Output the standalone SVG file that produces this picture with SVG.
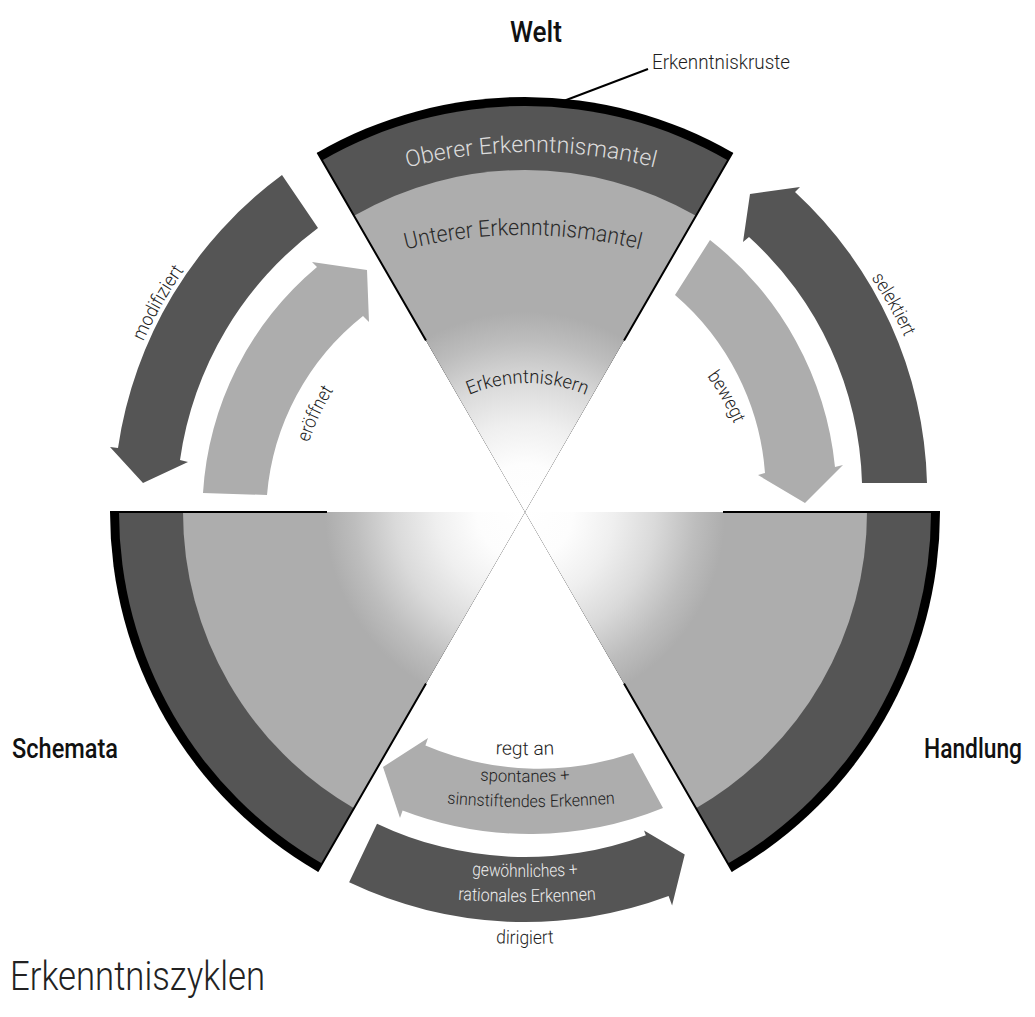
<svg xmlns="http://www.w3.org/2000/svg" width="1035" height="1017" viewBox="0 0 1035 1017">
<style>
  text{font-family:Roboto,"Liberation Sans",sans-serif}
  .crust{fill:#000}
  .mantle{fill:#555}
  .core{fill:url(#coreGrad)}
  .edge{stroke:#000;stroke-width:2;fill:none}
  .dark{fill:#555}
  .light{fill:#adadad}
  .title{font-weight:500;fill:#111}
  .lbl{font-weight:300;fill:#1e1e1e;font-size:19px}
  .lblb{font-weight:300;fill:#1e1e1e;font-size:17px}
  .lblw{font-weight:300;fill:#eeeeee;font-size:18px}
  .layer{font-weight:300;font-size:23px}
</style>
<defs>
  <radialGradient id="coreGrad" gradientUnits="userSpaceOnUse" cx="525" cy="512" r="342">
    <stop offset="0" stop-color="#ffffff"/>
    <stop offset="0.14" stop-color="#fdfdfd"/>
    <stop offset="0.26" stop-color="#efefef"/>
    <stop offset="0.38" stop-color="#dadada"/>
    <stop offset="0.5" stop-color="#bdbdbd"/>
    <stop offset="0.585" stop-color="#adadad"/>
    <stop offset="1" stop-color="#adadad"/>
  </radialGradient>
  <path id="tp-oberer" d="M360,181.9 A504,504 0 0 1 702,181.9"/>
  <path id="tp-unterer" d="M380,256.8 A480,480 0 0 1 666,256.8"/>
  <path id="tp-kern" d="M440,411.2 A150,150 0 0 1 615,411.2"/>
  <path id="tp-modifiziert" d="M120.68,405.93 A418,418 0 0 1 227.89,217.98"/>
  <path id="tp-selektiert" d="M823.65,219.54 A418,418 0 0 1 929.87,408.05"/>
  <path id="tp-eroeffnet" d="M301.55,472 A227,227 0 0 1 351.45,365.69"/>
  <path id="tp-bewegt" d="M686.07,352.05 A227,227 0 0 1 744.47,454.01"/>
  <path id="tp-regt" d="M405,744.6 A700,700 0 0 0 645,744.6"/>
  <path id="tp-spontan" d="M375,765.7 A700,700 0 0 0 675,765.7"/>
  <path id="tp-sinn" d="M381,795.7 A1000,1000 0 0 0 681,795.7"/>
  <path id="tp-gew" d="M375,860.7 A700,700 0 0 0 675,860.7"/>
  <path id="tp-rat" d="M377,890.7 A1000,1000 0 0 0 677,890.7"/>
  <path id="tp-dirig" d="M405,933.6 A700,700 0 0 0 645,933.6"/>
</defs>
<rect width="1035" height="1017" fill="#fff"/>

<g id="welt">
  <path class="crust" d="M525,512 L317.5,152.61 A415,415 0 0 1 732.5,152.61 Z"/>
  <path class="mantle" d="M525,512 L322,160.4 A406,406 0 0 1 728,160.4 Z"/>
  <path class="core" d="M525,512 L354,215.8 A342,342 0 0 1 696,215.8 Z"/>
  <path class="edge" d="M426,340.5 L317.5,152.61 M624,340.5 L732.5,152.61"/>
  <text class="layer" fill="#dcdcdc"><textPath href="#tp-oberer" startOffset="50%" text-anchor="middle" textLength="250" lengthAdjust="spacingAndGlyphs">Oberer Erkenntnismantel</textPath></text>
  <text class="layer" fill="#2a2a2a"><textPath href="#tp-unterer" startOffset="50%" text-anchor="middle" textLength="236" lengthAdjust="spacingAndGlyphs">Unterer Erkenntnismantel</textPath></text>
  <text font-weight="300" font-size="19" fill="#222"><textPath href="#tp-kern" startOffset="50%" text-anchor="middle" textLength="120" lengthAdjust="spacingAndGlyphs">Erkenntniskern</textPath></text>
  <text class="title" x="536" y="42" font-size="30" text-anchor="middle" textLength="52" lengthAdjust="spacingAndGlyphs">Welt</text>
  <path d="M648,69 L561,102" stroke="#000" stroke-width="2" fill="none"/>
  <text x="652" y="69" font-size="20" font-weight="300" fill="#1e1e1e" textLength="138" lengthAdjust="spacingAndGlyphs">Erkenntniskruste</text>
</g>

<g id="schemata">
  <path class="crust" d="M525,512 L317.5,871.39 A415,415 0 0 1 110,512 Z"/>
  <path class="mantle" d="M525,512 L322,863.6 A406,406 0 0 1 119,512 Z"/>
  <path class="core" d="M525,512 L354,808.2 A342,342 0 0 1 183,512 Z"/>
  <path class="edge" d="M426,683.5 L317.5,871.39 M327,512 L110,512"/>
  <text class="title" x="12" y="758" font-size="28" textLength="106" lengthAdjust="spacingAndGlyphs">Schemata</text>
</g>

<g id="handlung">
  <path class="crust" d="M525,512 L940,512 A415,415 0 0 1 732.5,871.39 Z"/>
  <path class="mantle" d="M525,512 L931,512 A406,406 0 0 1 728,863.6 Z"/>
  <path class="core" d="M525,512 L867,512 A342,342 0 0 1 696,808.2 Z"/>
  <path class="edge" d="M723,512 L940,512 M624,683.5 L732.5,871.39"/>
  <text class="title" x="1022" y="758" font-size="27" text-anchor="end" textLength="98" lengthAdjust="spacingAndGlyphs">Handlung</text>
</g>

<g id="connectors">
  <g id="arrow-modifiziert">
    <path class="dark" d="M282,175 A414,414 0 0 0 118,448 L110,447 L143,483 L188,462 L180,460 A350,350 0 0 1 318,228 Z"/>
    <text class="lbl"><textPath href="#tp-modifiziert" startOffset="50%" text-anchor="middle" textLength="82" lengthAdjust="spacingAndGlyphs">modifiziert</textPath></text>
  </g>
  <g id="arrow-eroeffnet">
    <path class="light" d="M203,493 A320,320 0 0 1 317,267 L312,262 L367,270 L369,322 L363,316 A256,256 0 0 0 267,495 Z"/>
    <text class="lbl"><textPath href="#tp-eroeffnet" startOffset="50%" text-anchor="middle" textLength="58" lengthAdjust="spacingAndGlyphs">eröffnet</textPath></text>
  </g>
  <g id="arrow-selektiert">
    <path class="dark" d="M862,483 A345,345 0 0 0 749,237 L743,242 L750,194 L800,187 L795,192 A410,410 0 0 1 927,483 Z"/>
    <text class="lbl"><textPath href="#tp-selektiert" startOffset="50%" text-anchor="middle" textLength="68" lengthAdjust="spacingAndGlyphs">selektiert</textPath></text>
  </g>
  <g id="arrow-bewegt">
    <path class="light" d="M710,240 A330,330 0 0 1 835,467 L843,465 L805,503 L758,475 L765,473 A260,260 0 0 0 675,295 Z"/>
    <text class="lbl"><textPath href="#tp-bewegt" startOffset="50%" text-anchor="middle" textLength="55" lengthAdjust="spacingAndGlyphs">bewegt</textPath></text>
  </g>
  <g id="arrow-regt-an">
    <path class="light" d="M633,753 A290,290 0 0 1 425.4,745.6 L428,738 L383,767 L400,818 L402.6,810.4 A355,355 0 0 0 663,808 Z"/>
    <text class="lbl"><textPath href="#tp-regt" startOffset="50%" text-anchor="middle" textLength="59" lengthAdjust="spacingAndGlyphs">regt an</textPath></text>
    <text class="lblb"><textPath href="#tp-spontan" startOffset="50%" text-anchor="middle" textLength="90" lengthAdjust="spacingAndGlyphs">spontanes +</textPath></text>
    <text class="lblb"><textPath href="#tp-sinn" startOffset="50%" text-anchor="middle" textLength="168" lengthAdjust="spacingAndGlyphs">sinnstiftendes Erkennen</textPath></text>
  </g>
  <g id="arrow-dirigiert">
    <path class="dark" d="M377.02,823.65 A345,345 0 0 0 645.82,835.15 L644.07,830.47 L684.75,854.58 L672.09,905.4 L668.59,896.03 A410,410 0 0 1 349.13,882.37 Z"/>
    <text class="lblw"><textPath href="#tp-gew" startOffset="50%" text-anchor="middle" textLength="106" lengthAdjust="spacingAndGlyphs">gewöhnliches +</textPath></text>
    <text class="lblw"><textPath href="#tp-rat" startOffset="50%" text-anchor="middle" textLength="138" lengthAdjust="spacingAndGlyphs">rationales Erkennen</textPath></text>
    <text class="lbl"><textPath href="#tp-dirig" startOffset="50%" text-anchor="middle" textLength="58" lengthAdjust="spacingAndGlyphs">dirigiert</textPath></text>
  </g>
</g>

<text id="title" x="10" y="990" font-size="40" font-weight="300" fill="#222" textLength="255" lengthAdjust="spacingAndGlyphs">Erkenntniszyklen</text>
</svg>
